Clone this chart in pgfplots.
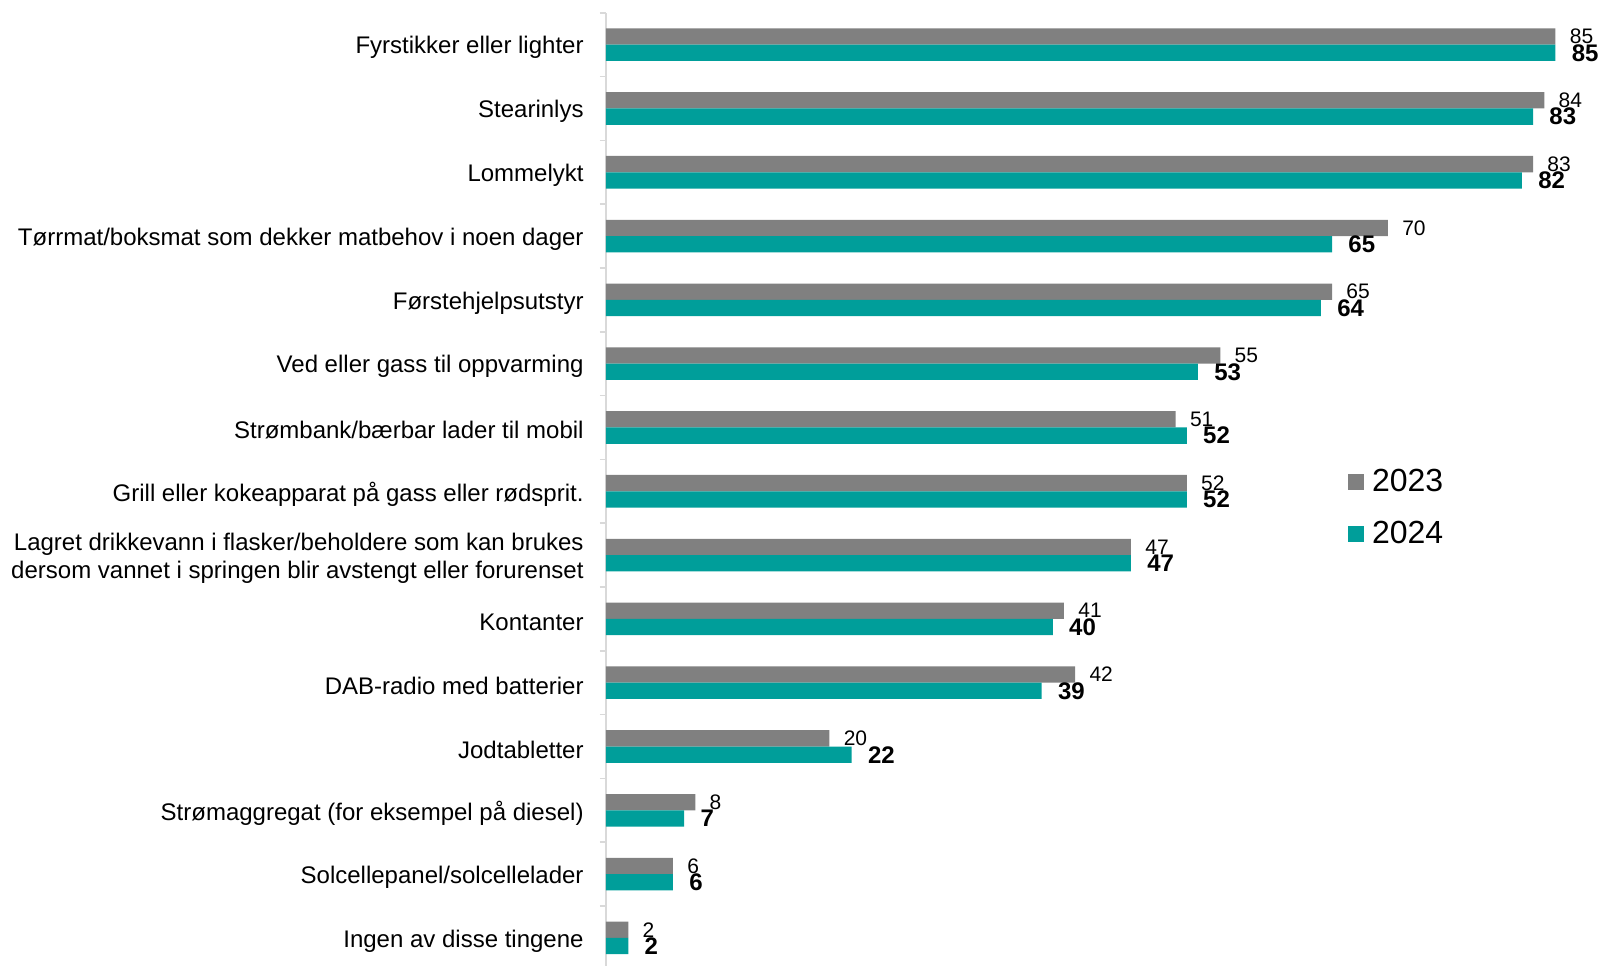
\documentclass[border=0pt]{standalone}
\usepackage{fontspec}
\setmainfont{Liberation Sans}
\usepackage{pgfplots}
\usepackage{pgfplotstable}
\pgfplotsset{compat=1.18}
\definecolor{g23}{HTML}{808080}
\definecolor{t24}{HTML}{009E9A}
\definecolor{axgray}{HTML}{D9D9D9}

% y = position from the bottom, a = 2023, b = 2024
\pgfplotstableread{
y a b
14 85 85
13 84 83
12 83 82
11 70 65
10 65 64
9 55 53
8 51 52
7 52 52
6 47 47
5 41 40
4 42 39
3 20 22
2 8 7
1 6 6
0 2 2
}\data

\begin{document}
\begin{tikzpicture}
\begin{axis}[
  scale only axis, width=496.5pt, height=476.5pt,
  xmin=0, xmax=88.9, ymin=-0.437, ymax=14.5,
  xbar, bar width=8.15pt,
  axis x line=none, axis y line*=left,
  y axis line style={axgray, line width=0.8pt, -},
  /pgf/number format/assume math mode=true,
  ytick={0,...,14},
  yticklabels={
    Ingen av disse tingene,
    Solcellepanel/solcellelader,
    Strømaggregat (for eksempel på diesel),
    Jodtabletter,
    DAB-radio med batterier,
    Kontanter,
    {Lagret drikkevann i flasker/beholdere som kan brukes\\dersom vannet i springen blir avstengt eller forurenset},
    Grill eller kokeapparat på gass eller rødsprit.,
    Strømbank/bærbar lader til mobil,
    Ved eller gass til oppvarming,
    Førstehjelpsutstyr,
    Tørrmat/boksmat som dekker matbehov i noen dager,
    Lommelykt,
    Stearinlys,
    Fyrstikker eller lighter},
  major tick length=0pt,
  minor ytick={-0.5,0.5,...,14.5},
  minor tick length=3pt, tick align=outside,
  minor tick style={axgray, line width=0.8pt},
  yticklabel style={font=\fontsize{12}{14}\selectfont, align=right, inner sep=0pt,
    xshift=-11pt, yshift=-1.5pt},
  point meta=x,
  clip=false,
  legend style={at={(axis cs:66.4,7.41)}, anchor=north west, draw=none, fill=none,
    font=\fontsize{16}{18}\selectfont, row sep=9pt, inner sep=0pt,
    nodes={inner xsep=4pt}},
  legend cell align=left,
  legend image code/.code={\draw[#1, draw=none] (0pt,-4pt) rectangle (8pt,4pt);},
]
\addplot[fill=g23, draw=none, bar shift=4.075pt,
  nodes near coords,
  nodes near coords style={anchor=west, inner sep=0pt, xshift=7pt, black,
    font=\fontsize{10.5}{12}\selectfont}]
  table[x=a, y=y] {\data};
\addlegendentry{2023}
\addplot[fill=t24, draw=none, bar shift=-4.075pt,
  nodes near coords,
  nodes near coords style={anchor=west, inner sep=0pt, xshift=8pt, black,
    font=\fontsize{12}{14}\selectfont\bfseries}]
  table[x=b, y=y] {\data};
\addlegendentry{2024}
\coordinate (bl) at (axis cs:-54.25,-0.437);
\coordinate (tr) at (axis cs:88.9,14.70);
\end{axis}
\pgfresetboundingbox
\path[use as bounding box] (bl) rectangle (tr);
\end{tikzpicture}
\end{document}
